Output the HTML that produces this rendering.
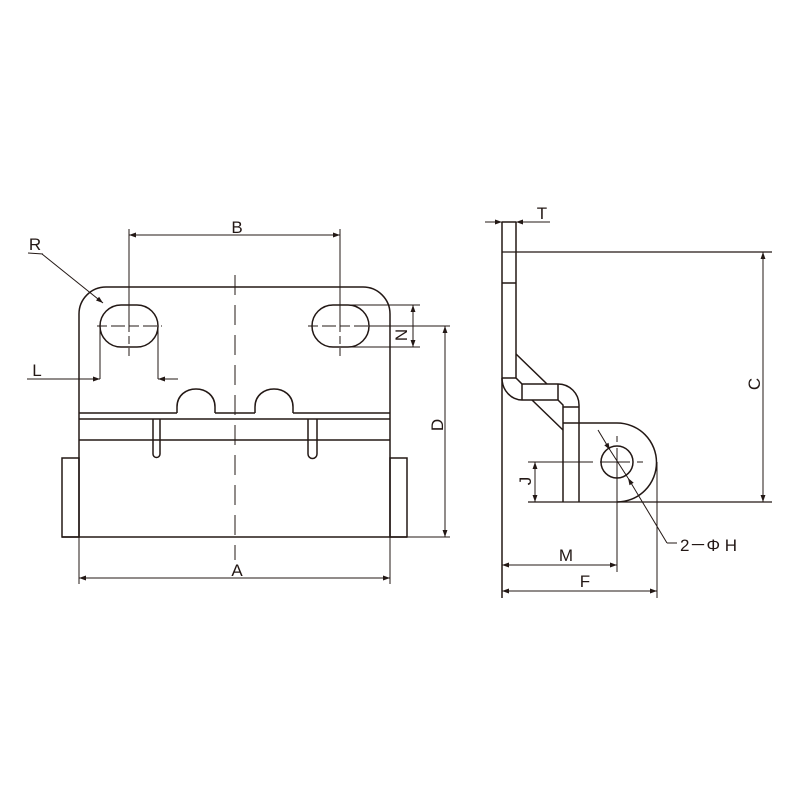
<!DOCTYPE html>
<html><head><style>html,body{margin:0;padding:0;background:#fff;width:800px;height:800px;overflow:hidden}</style></head>
<body>
<svg width="800" height="800" viewBox="0 0 800 800" xmlns="http://www.w3.org/2000/svg">
<defs>
<marker id="a" viewBox="0 0 10 10" refX="10" refY="5" markerWidth="9" markerHeight="7" orient="auto-start-reverse" markerUnits="userSpaceOnUse"><path d="M0,1.5 L10,5 L0,8.5 Z" fill="#231815"/></marker>
</defs>
<g fill="none" stroke="#231815" stroke-width="1.5">
<path d="M79,537 V314 A27,27 0 0 1 106,287 H363 A27,27 0 0 1 390,314 V537"/>
<line x1="62" y1="537" x2="407" y2="537"/>
<rect x="62" y="458" width="17" height="79"/>
<rect x="390" y="458" width="17" height="79"/>
<rect x="100" y="305" width="58" height="42" rx="21"/>
<rect x="312" y="305" width="57" height="42" rx="21"/>
<path d="M79,413 H177 M215,413 H255 M293,413 H390"/>
<path d="M177,413 V407 C177,383 215,383 215,407 V413"/>
<path d="M255,413 V407 C255,383 293,383 293,407 V413"/>
<line x1="79" y1="419" x2="390" y2="419"/>
<line x1="79" y1="440" x2="390" y2="440"/>
<path d="M153,419 V454 A3.5,3.5 0 0 0 160,454 V419"/>
<path d="M308,419 V454 A4.5,4.5 0 0 0 317,454 V419"/>
<line x1="235" y1="275" x2="235" y2="560" stroke-width="1" stroke-dasharray="20,10"/>
<path d="M97,326 H162 M308,326 H372" stroke-width="1" stroke-dasharray="10,4,14,4"/>
<path d="M129,300 V356 M340,300 V356" stroke-width="1" stroke-dasharray="8,4,20,4"/>
<path d="M129,229 V330 M340,229 V330" stroke-width="1"/>
<line x1="129" y1="235" x2="340" y2="235" stroke-width="1" marker-start="url(#a)" marker-end="url(#a)"/>
<line x1="42" y1="254" x2="103" y2="303" stroke-width="1" marker-end="url(#a)"/>
<path d="M100,326 V379 M158,326 V379" stroke-width="1"/>
<line x1="27" y1="379" x2="100" y2="379" stroke-width="1" marker-end="url(#a)"/>
<line x1="178" y1="379" x2="158" y2="379" stroke-width="1" marker-end="url(#a)"/>
<path d="M340,305 H420 M340,347 H420" stroke-width="1"/>
<line x1="413" y1="305" x2="413" y2="347" stroke-width="1" marker-start="url(#a)" marker-end="url(#a)"/>
<line x1="369" y1="326" x2="450" y2="326" stroke-width="1"/>
<line x1="407" y1="537" x2="450" y2="537" stroke-width="1"/>
<line x1="445" y1="326" x2="445" y2="537" stroke-width="1" marker-start="url(#a)" marker-end="url(#a)"/>
<path d="M79,537 V584 M390,537 V584" stroke-width="1"/>
<line x1="79" y1="578" x2="390" y2="578" stroke-width="1" marker-start="url(#a)" marker-end="url(#a)"/>

<path d="M502,222 V598"/>
<path d="M516,222 V378 L522,384 H558 A21,21 0 0 1 579,405 V502"/>
<path d="M502,222 H516 M502,283 H516 M502,378 H516"/>
<line x1="502" y1="252" x2="772" y2="252" stroke-width="1.2"/>
<path d="M502,378 A20,22 0 0 0 522,400 H558 L563,405 V502"/>
<path d="M522,384 V400 M558,384 V400 M563,407 H579"/>
<path d="M516,354 L547,384 M532,400 L563,430"/>
<path d="M563,423 H617 A39,39 0 0 1 617,502"/>
<line x1="528" y1="502" x2="772" y2="502" stroke-width="1.2"/>
<circle cx="617" cy="462" r="16"/>
<path d="M657,462 V598" stroke-width="1"/>
<path d="M528,462 H593 M600,462 H630 M637,462 H643" stroke-width="1"/>
<path d="M617,436 V442 M617,448 V572" stroke-width="1"/>
<line x1="763" y1="252" x2="763" y2="502" stroke-width="1" marker-start="url(#a)" marker-end="url(#a)"/>
<line x1="535" y1="462" x2="535" y2="502" stroke-width="1" marker-start="url(#a)" marker-end="url(#a)"/>
<line x1="598" y1="430" x2="610" y2="450" stroke-width="1" marker-end="url(#a)"/>
<line x1="667" y1="543" x2="628" y2="478" stroke-width="1" marker-end="url(#a)"/>
<path d="M610,450 L628,478 M667,543 H677" stroke-width="1"/>
<line x1="502" y1="565" x2="617" y2="565" stroke-width="1" marker-start="url(#a)" marker-end="url(#a)"/>
<line x1="502" y1="591" x2="657" y2="591" stroke-width="1" marker-start="url(#a)" marker-end="url(#a)"/>
<line x1="485" y1="222" x2="502" y2="222" stroke-width="1" marker-end="url(#a)"/>
<line x1="550" y1="222" x2="516" y2="222" stroke-width="1" marker-end="url(#a)"/>
</g>
<g font-family="Liberation Sans, sans-serif" font-size="17" fill="#231815" text-anchor="middle">
<text x="237" y="233">B</text>
<text x="35" y="250">R</text>
<line x1="28" y1="253" x2="43" y2="254" stroke="#231815" stroke-width="1"/>
<text x="37" y="376">L</text>
<text x="237" y="576">A</text>
<text transform="translate(407,335) rotate(-90)">N</text>
<text transform="translate(443,425) rotate(-90)">D</text>
<text x="542" y="219">T</text>
<text transform="translate(760,384) rotate(-90)">C</text>
<text transform="translate(531,481) rotate(-90)">J</text>
<text x="566" y="561">M</text>
<text x="585" y="587">F</text>
<text x="680" y="551" text-anchor="start">2－Φ H</text>
</g>
</svg>
</body></html>
